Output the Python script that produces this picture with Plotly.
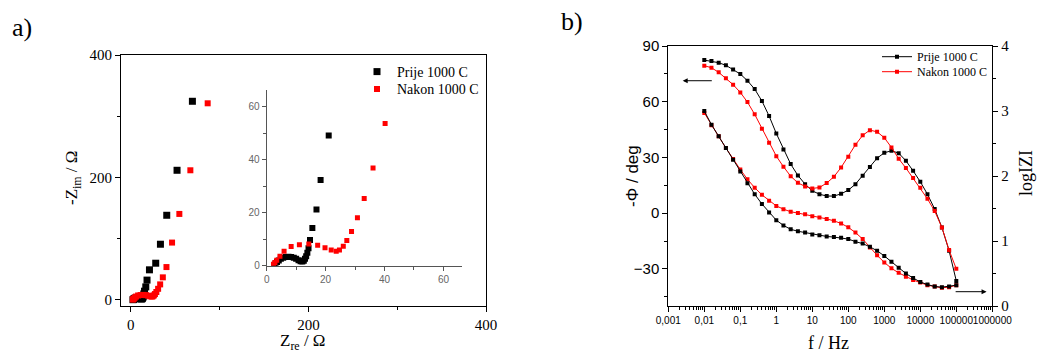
import plotly.graph_objects as go

W, H = 1037, 354
SERIF = "Liberation Serif"
SANS = "Liberation Sans"


def px(x):
    return x / W


def py(y):
    return 1 - y / H


# ---------------- Panel a) Nyquist data ----------------
# low-impedance region (shown in main plot and inset)
prije_zre_low = [2.5, 3.0, 3.5, 4.1, 4.8, 5.6, 6.5, 7.4, 8.3, 9.2, 10.0, 10.8, 11.5, 12.1,
                 12.6, 13.0, 13.4, 13.8, 14.2, 14.7, 15.5, 16.9, 18.3, 21.05]
prije_zim_low = [0.3, 0.8, 1.4, 2.0, 2.6, 3.0, 3.3, 3.4, 3.3, 3.0, 2.6, 2.1, 1.7, 1.6,
                 1.9, 2.6, 3.6, 4.9, 6.6, 9.7, 14.2, 21.2, 32.3, 49.1]
nakon_zre_low = [2.3, 2.8, 3.4, 4.5, 5.9, 8.3, 11.1, 14.3, 17.3, 19.8, 21.9, 23.6, 24.7,
                 26.0, 27.2, 28.8, 30.8, 33.1, 36.1, 40.2]
nakon_zim_low = [0.5, 1.2, 2.1, 3.6, 5.4, 7.2, 7.9, 8.2, 7.7, 6.8, 5.9, 5.4, 5.9,
                 7.3, 9.5, 12.9, 18.1, 25.3, 36.8, 53.6]
# high-impedance points (main plot only)
prije_zre_high = [28.1, 33.4, 40.5, 52.1, 69.4]
prije_zim_high = [59.9, 90.9, 138.2, 211.7, 324.4]
nakon_zre_high = [46.5, 54.7, 67.1, 86.6]
nakon_zim_high = [93.6, 140.4, 211.7, 321.1]

# ---------------- Panel b) Bode data ----------------
freq = [0.01, 0.0158, 0.0251, 0.0398, 0.0631,
        0.1, 0.158, 0.251, 0.398, 0.631,
        1, 1.58, 2.51, 3.98, 6.31,
        10, 15.8, 25.1, 39.8, 63.1,
        100, 158, 251, 398, 631,
        1000, 1580, 2510, 3980, 6310,
        10000, 15800, 25100, 39800, 63100,
        100000]
phase_prije = [82.4, 81.9, 81.0, 79.6, 77.4, 74.9, 71.3, 66.8, 60.4, 52.3, 42.9, 34.3,
               26.4, 20.3, 15.6, 12.0, 10.2, 9.2, 9.2, 10.4, 12.4, 15.6, 20.1, 24.8,
               29.6, 32.5, 33.6, 32.3, 28.2, 22.8, 16.9, 10.2, 2.2, -7.7, -20.3, -36.5]
phase_nakon = [79.4, 78.3, 75.8, 72.7, 69.2, 65.0, 59.8, 53.2, 45.4, 37.9, 30.7, 25.0,
               19.9, 16.3, 14.4, 13.3, 13.8, 16.2, 19.6, 24.6, 30.4, 36.8, 41.9, 44.7,
               43.8, 40.6, 35.4, 29.3, 24.3, 18.9, 13.7, 7.7, 1.1, -7.7, -19.9, -30.0]
logz_prije = [3.00, 2.79, 2.61, 2.43, 2.25, 2.07, 1.89, 1.72, 1.57, 1.44, 1.32, 1.24,
              1.18, 1.15, 1.13, 1.10, 1.09, 1.07, 1.06, 1.05, 1.03, 0.99, 0.96, 0.91,
              0.85, 0.77, 0.68, 0.59, 0.50, 0.43, 0.37, 0.33, 0.30, 0.29, 0.30, 0.32]
logz_nakon = [2.97, 2.78, 2.61, 2.43, 2.26, 2.10, 1.95, 1.82, 1.71, 1.62, 1.54, 1.49,
              1.45, 1.43, 1.41, 1.38, 1.36, 1.34, 1.31, 1.27, 1.21, 1.13, 1.03, 0.90,
              0.78, 0.67, 0.58, 0.51, 0.45, 0.40, 0.36, 0.32, 0.30, 0.28, 0.29, 0.32]

series_names = ["Prije 1000 C", "Nakon 1000 C"]
freq_ticks = [0.001, 0.01, 0.1, 1, 10, 100, 1000, 10000, 100000, 1000000]
freq_ticktext = ["0,001", "0,01", "0,1", "1", "10", "100", "1000", "10000", "100000", "1000000"]
freq_minor = [m * 10 ** e for e in range(-3, 6) for m in range(2, 10)]

BLACK = "#000000"
RED = "#ff0000"
INSET = "#555555"

fig = go.Figure()

# Panel a main
fig.add_trace(go.Scatter(x=prije_zre_low + prije_zre_high, y=prije_zim_low + prije_zim_high,
                         mode="markers", name=series_names[0],
                         marker=dict(symbol="square", size=7, color=BLACK),
                         xaxis="x", yaxis="y", legend="legend"))
fig.add_trace(go.Scatter(x=nakon_zre_low + nakon_zre_high, y=nakon_zim_low + nakon_zim_high,
                         mode="markers", name=series_names[1],
                         marker=dict(symbol="square", size=6, color=RED),
                         xaxis="x", yaxis="y", legend="legend2"))
# Panel a inset
fig.add_trace(go.Scatter(x=prije_zre_low, y=prije_zim_low, mode="markers", showlegend=False,
                         marker=dict(symbol="square", size=6, color=BLACK),
                         xaxis="x2", yaxis="y2"))
fig.add_trace(go.Scatter(x=nakon_zre_low, y=nakon_zim_low, mode="markers", showlegend=False,
                         marker=dict(symbol="square", size=5, color=RED),
                         xaxis="x2", yaxis="y2"))

# Panel b
fig.add_trace(go.Scatter(x=freq, y=phase_prije, mode="lines+markers", name=series_names[0],
                         line=dict(color=BLACK, width=1),
                         marker=dict(symbol="square", size=4, color=BLACK),
                         xaxis="x3", yaxis="y3", legend="legend3"))
fig.add_trace(go.Scatter(x=freq, y=phase_nakon, mode="lines+markers", name=series_names[1],
                         line=dict(color=RED, width=1),
                         marker=dict(symbol="square", size=4, color=RED),
                         xaxis="x3", yaxis="y3", legend="legend4"))
fig.add_trace(go.Scatter(x=freq, y=logz_nakon, mode="lines+markers", showlegend=False,
                         line=dict(color=RED, width=1),
                         marker=dict(symbol="square", size=4, color=RED),
                         xaxis="x3", yaxis="y4"))
fig.add_trace(go.Scatter(x=freq, y=logz_prije, mode="lines+markers", showlegend=False,
                         line=dict(color=BLACK, width=1),
                         marker=dict(symbol="square", size=4, color=BLACK),
                         xaxis="x3", yaxis="y4"))

common = dict(showgrid=False, zeroline=False, showline=True, linecolor=BLACK, linewidth=1,
              ticks="outside", tickcolor=BLACK, tickwidth=1, automargin=False)

fig.update_layout(
    template="none",
    width=W, height=H, autosize=False,
    margin=dict(l=0, r=0, t=0, b=0, pad=0),
    paper_bgcolor="white", plot_bgcolor="rgba(0,0,0,0)",
    font=dict(family=SERIF, color=BLACK),
    xaxis=dict(**common, domain=[px(121), px(486)], range=[-11, 400], anchor="y",
               mirror=True, tickvals=[0, 200, 400], ticklen=5, tickangle=0,
               minor=dict(ticks="outside", tickvals=[100, 300], ticklen=3, tickcolor=BLACK),
               tickfont=dict(family=SERIF, size=15, color=BLACK)),
    yaxis=dict(**common, domain=[py(306), py(55)], range=[-10, 400], anchor="x",
               mirror=True, tickvals=[0, 200, 400], ticklen=5,
               minor=dict(ticks="outside", tickvals=[100, 300], ticklen=3, tickcolor=BLACK),
               tickfont=dict(family=SERIF, size=15, color=BLACK)),
    xaxis2=dict(showgrid=False, zeroline=False, showline=True, linecolor=INSET, linewidth=1,
                ticks="outside", tickcolor=INSET, ticklen=4, automargin=False, tickangle=0,
                domain=[px(266.7), px(461.7)], range=[0, 66.2], anchor="y2",
                tickvals=[0, 20, 40, 60],
                minor=dict(ticks="outside", tickvals=[10, 30, 50], ticklen=3, tickcolor=INSET),
                tickfont=dict(family=SANS, size=10, color="#666666")),
    yaxis2=dict(showgrid=False, zeroline=False, showline=True, linecolor=INSET, linewidth=1,
                ticks="outside", tickcolor=INSET, ticklen=4, automargin=False,
                domain=[py(265.7), py(90)], range=[0, 66.2], anchor="x2",
                tickvals=[0, 20, 40, 60],
                minor=dict(ticks="outside", tickvals=[10, 30, 50], ticklen=3, tickcolor=INSET),
                tickfont=dict(family=SANS, size=10, color="#666666")),
    xaxis3=dict(**common, type="log", domain=[px(668.3), px(992.3)], range=[-3, 6],
                anchor="y3", mirror=True, tickvals=freq_ticks, ticktext=freq_ticktext,
                ticklen=5, tickangle=0,
                minor=dict(ticks="outside", tickvals=freq_minor, ticklen=2.5, tickcolor=BLACK),
                tickfont=dict(family=SANS, size=10, color=BLACK)),
    yaxis3=dict(**common, domain=[py(306), py(46)], range=[-50, 90], anchor="x3",
                tick0=0, dtick=30, ticklen=5,
                minor=dict(ticks="outside", tick0=0, dtick=15, ticklen=3, tickcolor=BLACK),
                tickfont=dict(family=SANS, size=15, color=BLACK)),
    yaxis4=dict(**common, overlaying="y3", side="right", range=[0, 4], anchor="x3",
                tick0=0, dtick=1, ticklen=5,
                minor=dict(ticks="outside", tick0=0, dtick=0.5, ticklen=3, tickcolor=BLACK),
                tickfont=dict(family=SERIF, size=15, color=BLACK)),
    legend=dict(x=px(357), y=py(72), xanchor="left", yanchor="middle",
                bgcolor="rgba(0,0,0,0)", font=dict(family=SERIF, size=14, color=BLACK)),
    legend2=dict(x=px(357), y=py(89.3), xanchor="left", yanchor="middle",
                 bgcolor="rgba(0,0,0,0)", font=dict(family=SERIF, size=14, color=BLACK)),
    legend3=dict(x=px(877), y=py(56.7), xanchor="left", yanchor="middle",
                 bgcolor="rgba(0,0,0,0)", font=dict(family=SERIF, size=12, color=BLACK)),
    legend4=dict(x=px(877), y=py(71.7), xanchor="left", yanchor="middle",
                 bgcolor="rgba(0,0,0,0)", font=dict(family=SERIF, size=12, color=BLACK)),
)

ann = []


def label(text, x, y, size, family=SERIF, angle=0):
    ann.append(dict(text=text, x=px(x), y=py(y), xref="paper", yref="paper",
                    xanchor="center", yanchor="middle",
                    showarrow=False, textangle=angle,
                    font=dict(family=family, size=size, color=BLACK)))


label("a)", 22, 27, 26)
label("b)", 572, 22, 26)
label("-Z<sub>im</sub> / Ω", 73, 178, 17, angle=-90)
label("Z<sub>re</sub> / Ω", 303, 342, 17)
label("-Φ / deg", 632, 176, 17, family=SANS, angle=-90)
label("logIZI", 1026, 173, 18, angle=-90)
label("f / Hz", 828, 343, 18)

# direction arrows (which curve belongs to which axis)
ann.append(dict(text="", x=-2.6, y=71.3, ax=-1.75, ay=71.3, xref="x3", yref="y3",
                axref="x3", ayref="y3", showarrow=True, arrowhead=2, arrowsize=1,
                arrowwidth=1, arrowcolor=BLACK))
ann.append(dict(text="", x=5.84, y=0.22, ax=4.94, ay=0.22, xref="x3", yref="y4",
                axref="x3", ayref="y4", showarrow=True, arrowhead=2, arrowsize=1,
                arrowwidth=1, arrowcolor=BLACK))
fig.update_layout(annotations=ann)

fig.write_html("out.html", config={"displayModeBar": False},
               post_script="document.body.style.margin='0';")
